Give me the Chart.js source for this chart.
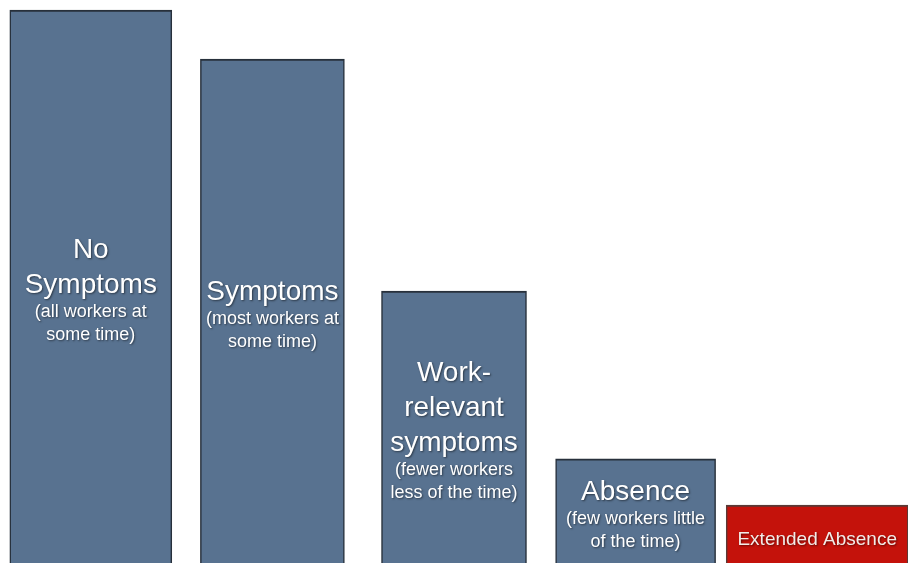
<!DOCTYPE html>
<html>
<head>
<meta charset="utf-8">
<script src="https://cdn.jsdelivr.net/npm/chart.js@4.4.1/dist/chart.umd.min.js"></script>
<style>
  html, body { margin: 0; padding: 0; background: #ffffff; }
  #wrap { width: 908px; height: 563px; position: relative; }
</style>
</head>
<body>
<div id="wrap"><canvas id="c" width="908" height="563"></canvas></div>
<script>
// ---- Data ----
const categories = ["No Symptoms", "Symptoms", "Work-relevant symptoms", "Absence", "Extended Absence"];
const values = [98.2, 89.5, 48.3, 18.5, 10.3];
const titleLines = [["No", "Symptoms"], ["Symptoms"], ["Work-", "relevant", "symptoms"], ["Absence"], []];
const subLines = [["(all workers at", "some time)"], ["(most workers at", "some time)"], ["(fewer workers", "less of the time)"], ["(few workers little", "of the time)"], ["Extended Absence"]];

// ---- Styles ----
const barWidths = [162, 144, 145, 160, 182];
const fills = ["#587290", "#587290", "#587290", "#587290", "#c4120b"];
const borders = ["#27303b", "#27303b", "#27303b", "#27303b", "#5a3a36"];

const datasets = categories.map((c, i) => ({
  label: c,
  data: categories.map((_, j) => (j === i ? values[i] : null)),
  backgroundColor: fills[i],
  borderColor: borders[i],
  borderWidth: { top: 2, left: 1.5, right: 1.5, bottom: 0 },
  barThickness: barWidths[i],
  grouped: false
}));

const labelPlugin = {
  id: 'barLabels',
  afterDatasetsDraw(chart) {
    const ctx = chart.ctx;
    const bottom = chart.chartArea.bottom;
    categories.forEach((c, i) => {
      const el = chart.getDatasetMeta(i).data[i];
      if (!el) return;
      const cx = el.x;
      const top = el.y;
      const mid = (top + bottom) / 2 + 6;
      const isRed = i === 4;
      const items = [];
      let y = 0;
      titleLines[i].forEach((t, k) => {
        if (k > 0) y += 35;
        items.push({ t, y, big: true });
      });
      subLines[i].forEach((t, k) => {
        if (items.length) y += (k === 0 && titleLines[i].length ? 27 : 23);
        items.push({ t, y, big: false });
      });
      const span = items.length ? items[items.length - 1].y : 0;
      const y0 = mid - span / 2;
      ctx.save();
      ctx.textAlign = 'center';
      ctx.textBaseline = 'middle';
      ctx.fillStyle = isRed ? '#f3ece8' : '#ffffff';
      ctx.shadowColor = 'rgba(0,0,0,0.5)';
      ctx.shadowBlur = 2;
      ctx.shadowOffsetX = 1;
      ctx.shadowOffsetY = 1;
      items.forEach(it => {
        ctx.font = it.big ? '28px "Liberation Sans", Arial, sans-serif'
                          : (isRed ? '19px "Liberation Sans", Arial, sans-serif' : '18px "Liberation Sans", Arial, sans-serif');
        ctx.fillText(it.t, cx, y0 + it.y);
      });
      ctx.restore();
    });
  }
};

new Chart(document.getElementById('c'), {
  type: 'bar',
  data: { labels: categories, datasets },
  options: {
    responsive: false,
    animation: false,
    layout: { padding: 0 },
    plugins: { legend: { display: false }, tooltip: { enabled: false } },
    scales: {
      x: { display: false, offset: true },
      y: { display: false, min: 0, max: 100 }
    }
  },
  plugins: [labelPlugin]
});
</script>
</body>
</html>
